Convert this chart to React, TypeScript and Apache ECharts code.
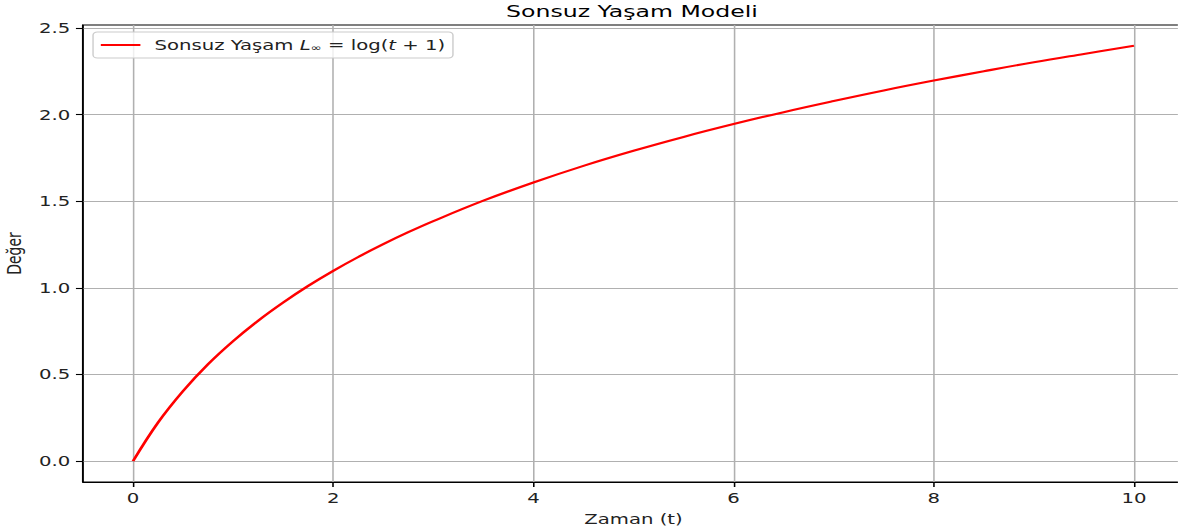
import React, { useEffect, useRef } from "react";
import * as echarts from "echarts";

const titleText = "Sonsuz Yaşam Modeli";
const xName = "Zaman (t)";
const yName = "Değer";
const seriesName = "Sonsuz Yaşam L∞ = log(t+1)";

// values
const tValues = [0, 0.25, 0.5, 0.75, 1, 1.25, 1.5, 1.75, 2, 2.25, 2.5, 2.75, 3, 3.5, 4, 4.5, 5, 5.5, 6, 6.5, 7, 7.5, 8, 8.5, 9, 9.5, 10];
const yValues = [0, 0.223, 0.405, 0.56, 0.693, 0.811, 0.916, 1.012, 1.099, 1.179, 1.253, 1.322, 1.386, 1.504, 1.609, 1.705, 1.792, 1.872, 1.946, 2.015, 2.079, 2.14, 2.197, 2.251, 2.303, 2.351, 2.398];

const xTicks = [0, 2, 4, 6, 8, 10];
const yTicks = [0, 0.5, 1.0, 1.5, 2.0, 2.5];

const FONT = "DejaVu Sans";
const SX = 1.414; // the reference is stretched horizontally
const W = Math.floor(1178 / SX);
const H = 531;
const TXT = "#222";

export default function App() {
  const ref = useRef<HTMLDivElement>(null);
  useEffect(() => {
    if (!ref.current) return;
    const chart = echarts.init(ref.current, null, { renderer: "svg" });
    const data = tValues.map((t, i) => [t, yValues[i]]);
    chart.setOption({
      animation: false,
      backgroundColor: "#ffffff",
      title: {
        text: titleText,
        left: 632 / SX,
        textAlign: "center",
        top: 3,
        padding: 0,
        textStyle: { fontFamily: FONT, fontSize: 16.7, fontWeight: "normal", color: "#000" },
      },
      legend: {
        left: 65.8,
        top: 32,
        padding: [6, 5.5, 5, 5.5],
        backgroundColor: "rgba(255,255,255,0.8)",
        borderColor: "#cccccc",
        borderWidth: 1,
        borderRadius: 3,
        itemWidth: 28,
        itemHeight: 2,
        icon: "rect",
        data: [seriesName],
        formatter: () =>
          "{p|}{n|Sonsuz Yaşam }{i|L}{s|∞}{n| = log(}{i|t}{n| + 1)}",
        textStyle: {
          fontFamily: FONT,
          fontSize: 13.9,
          color: TXT,
          rich: {
            p: { width: 5 },
            n: { fontFamily: FONT, fontSize: 13.9, color: TXT },
            i: { fontFamily: FONT, fontSize: 13.9, fontStyle: "italic", color: TXT },
            s: { fontFamily: FONT, fontSize: 9.5, color: TXT, padding: [6, 0, 0, 0] },
          },
        },
      },
      grid: {
        left: 83 / SX,
        top: 25,
        right: W - 1184 / SX,
        bottom: 49,
        show: true,
        borderColor: "#000",
        borderWidth: 1.1,
        outerBoundsMode: "none",
        containLabel: false,
      },
      xAxis: {
        type: "value",
        min: -0.5,
        max: 10.5,
        name: xName,
        nameLocation: "middle",
        nameGap: 30,
        nameTextStyle: { fontFamily: FONT, fontSize: 13.9, color: TXT },
        axisLine: { show: true, onZero: false, lineStyle: { color: "#000", width: 1.1 } },
        axisTick: { show: true, inside: false, length: 5, lineStyle: { color: "#000", width: 1.1 }, customValues: xTicks },
        axisLabel: {
          customValues: xTicks,
          fontFamily: FONT,
          fontSize: 13.9,
          color: TXT,
          margin: 9,
        },
        splitLine: { show: true, lineStyle: { color: "#b0b0b0", width: 1.1 } },
      },
      yAxis: {
        type: "value",
        min: -0.12,
        max: 2.518,
        name: yName,
        nameLocation: "middle",
        nameGap: 39,
        nameRotate: 90,
        nameTextStyle: { fontFamily: FONT, fontSize: 13.9, color: TXT },
        axisLine: { show: true, onZero: false, lineStyle: { color: "#000", width: 1.1 } },
        axisTick: { show: true, inside: false, length: 5, lineStyle: { color: "#000", width: 1.1 }, customValues: yTicks },
        axisLabel: {
          customValues: yTicks,
          fontFamily: FONT,
          fontSize: 13.9,
          color: TXT,
          margin: 9,
          formatter: (v: number) => v.toFixed(1),
        },
        splitLine: { show: true, lineStyle: { color: "#b0b0b0", width: 1.1 } },
      },
      series: [
        {
          name: seriesName,
          type: "line",
          data,
          showSymbol: false,
          symbol: "none",
          smooth: 0.4,
          lineStyle: { color: "#ff0000", width: 2.1 },
          itemStyle: { color: "#ff0000" },
          clip: false,
        },
      ],
    });
    return () => chart.dispose();
  }, []);
  return (
    <div
      ref={ref}
      style={{
        position: "absolute",
        left: 0,
        top: 0,
        width: W,
        height: H,
        transform: `scaleX(${SX})`,
        transformOrigin: "0 0",
      }}
    />
  );
}
